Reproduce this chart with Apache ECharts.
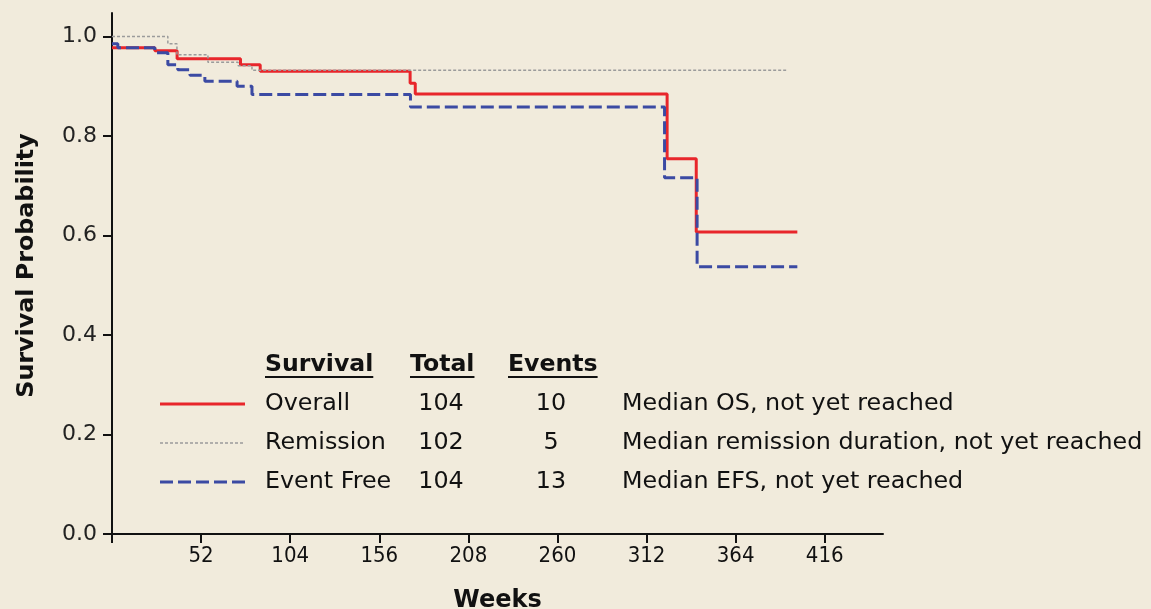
<!DOCTYPE html>
<html><head><meta charset="utf-8">
<script src="https://cdn.jsdelivr.net/npm/echarts@6/dist/echarts.min.js"></script>
<style>html,body{margin:0;padding:0;background:#f1ebdc}#c{width:1151px;height:609px}</style>
</head><body><div id="c"></div>
<script>
// Kaplan-Meier step data: [week of change, survival probability after change]
const overallData = [[0,0.977],[25,0.971],[38,0.955],[75,0.943],[86.5,0.930],[174,0.906],[177,0.884],[324,0.754],[341,0.607],[400,0.607]];
const remissionData = [[0,1.0],[32.6,0.985],[37.9,0.963],[56,0.948],[73.6,0.941],[81.7,0.932],[393.5,0.932]];
const eventFreeData = [[0,0.985],[3.4,0.977],[25,0.967],[32.6,0.943],[38.4,0.933],[45.5,0.922],[54.2,0.910],[73,0.900],[81.7,0.883],[174.2,0.858],[322.5,0.716],[341.5,0.537],[400,0.537]];

const xTicks = [0,52,104,156,208,260,312,364,416];
const xLabels = [52,104,156,208,260,312,364,416];
const yTicks = [0,0.2,0.4,0.6,0.8,1.0];

const legendHeaders = ['Survival','Total','Events'];
const legendNames = ['Overall','Remission','Event Free'];
const legendTotals = ['104','102','104'];
const legendEvents = ['10','5','13'];
const legendMedians = ['Median OS, not yet reached','Median remission duration, not yet reached','Median EFS, not yet reached'];

const RED = '#e8262b', GRAY = '#9b9b9b', BLUE = '#3b4aa3';
const styles = [
  {color: RED, width: 3, type: 'solid'},
  {color: GRAY, width: 1.5, type: [3, 2]},
  {color: BLUE, width: 3, type: [13, 5]}
];

const chart = echarts.init(document.getElementById('c'), null, {renderer: 'canvas'});

const FONT = '"DejaVu Sans", Verdana, sans-serif';
const graphics = [];
const hdrX = [265, 410, 508];
legendHeaders.forEach((h, i) => {
  graphics.push({type: 'text', x: hdrX[i], y: 365, style: {text: h, font: 'bold 23.6px ' + FONT, fill: '#111', textVerticalAlign: 'middle', textAlign: 'left'}});
});
// underline widths follow header text widths
const measure = (t, f) => { const c = document.createElement('canvas').getContext('2d'); c.font = f; return c.measureText(t).width; };
legendHeaders.forEach((h, i) => {
  const w = measure(h, 'bold 23.6px ' + FONT);
  graphics.push({type: 'line', shape: {x1: hdrX[i], y1: 377, x2: hdrX[i] + w, y2: 377}, style: {stroke: '#111', lineWidth: 2}});
});
const rowY = [404, 443, 482];
const ROWFONT = '23.8px ' + FONT;
legendNames.forEach((n, i) => {
  const y = rowY[i];
  graphics.push({type: 'line', shape: {x1: 160, y1: y, x2: 245, y2: y}, style: {stroke: styles[i].color, lineWidth: styles[i].width, lineDash: Array.isArray(styles[i].type) ? styles[i].type : null}});
  graphics.push({type: 'text', x: 265, y: y, style: {text: n, font: ROWFONT, fill: '#111', textVerticalAlign: 'middle', textAlign: 'left'}});
  graphics.push({type: 'text', x: 441, y: y, style: {text: legendTotals[i], font: ROWFONT, fill: '#111', textVerticalAlign: 'middle', textAlign: 'center'}});
  graphics.push({type: 'text', x: 551, y: y, style: {text: legendEvents[i], font: ROWFONT, fill: '#111', textVerticalAlign: 'middle', textAlign: 'center'}});
  graphics.push({type: 'text', x: 622, y: y, style: {text: legendMedians[i], font: ROWFONT, fill: '#111', textVerticalAlign: 'middle', textAlign: 'left'}});
});

chart.setOption({
  animation: false,
  backgroundColor: '#f1ebdc',
  grid: {left: 112, top: 13, width: 771, height: 521, containLabel: false, outerBoundsMode: 'none'},
  xAxis: {
    type: 'value', min: 0, max: 450,
    name: 'Weeks', nameLocation: 'middle', nameGap: 55,
    nameTextStyle: {fontWeight: 'bold', fontSize: 24, fontFamily: 'DejaVu Sans', color: '#111'},
    axisLine: {lineStyle: {color: '#111', width: 2}},
    axisTick: {show: true, length: 9, inside: false, lineStyle: {color: '#111', width: 2}, customValues: xTicks},
    axisLabel: {customValues: xLabels, color: '#111', fontSize: 22, fontFamily: '"DejaVu Sans Condensed", sans-serif', margin: 11},
    splitLine: {show: false}
  },
  yAxis: {
    type: 'value', min: 0, max: 1.047,
    name: 'Survival Probability', nameLocation: 'middle', nameGap: 73, nameRotate: 90,
    nameTextStyle: {fontWeight: 'bold', fontSize: 23.8, fontFamily: 'DejaVu Sans', color: '#111', padding: [0, 0, 0, 16]},
    axisLine: {onZero: false, lineStyle: {color: '#111', width: 2}},
    axisTick: {show: true, length: 9, lineStyle: {color: '#111', width: 2}, customValues: yTicks},
    axisLabel: {customValues: yTicks, color: '#222', fontSize: 22, fontFamily: 'DejaVu Sans', margin: 15, formatter: v => v.toFixed(1)},
    splitLine: {show: false}
  },
  series: [
    {name: 'Overall', type: 'line', step: 'end', data: overallData, showSymbol: false, symbol: 'none', lineStyle: styles[0], z: 2},
    {name: 'Event Free', type: 'line', step: 'end', data: eventFreeData, showSymbol: false, symbol: 'none', lineStyle: styles[2], z: 3},
    {name: 'Remission', type: 'line', step: 'end', data: remissionData, showSymbol: false, symbol: 'none', lineStyle: styles[1], z: 4}
  ],
  graphic: graphics
});
</script>
</body></html>
